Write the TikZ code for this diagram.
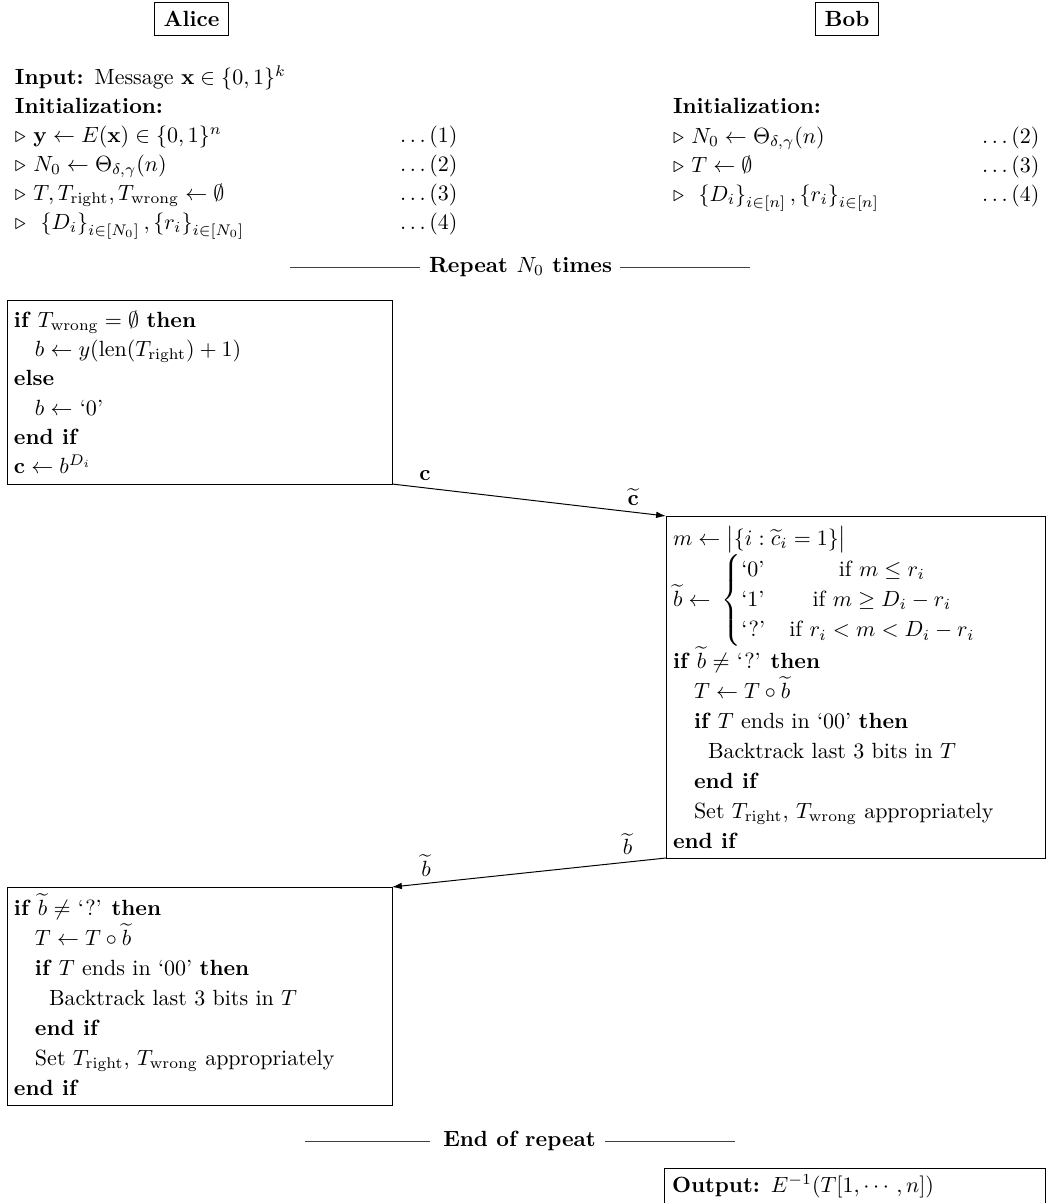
\documentclass[tikz,border=0pt]{standalone}
\usepackage{amsmath,amssymb}
\usetikzlibrary{arrows.meta,fit}
\begin{document}
\begin{tikzpicture}[x=0.4545pt,y=-0.4545pt,
  ln/.style={anchor=base west,inner sep=0pt,outer sep=0pt},
  frame/.style={draw,inner sep=0pt,outer sep=0pt,line width=0.45pt},
  party/.style={draw,line width=0.45pt,inner xsep=4pt,minimum height=15pt,font=\bfseries},
  msg/.style={-{Latex[length=4.5pt,width=3pt]},line width=0.45pt},
  lbl/.style={above,inner sep=3pt},
  rulel/.style={line width=0.4pt,black!75}]
\useasboundingbox (0,0) rectangle (1046,1203);

% headers
\node[party] (alice) at (191.5,18.5) {Alice};
\node[party] (bob) at (847,18.5) {Bob};

% Alice initialization
\node[ln] (ain) at (15,84) {\textbf{Input:}\hspace{5pt}Message $\mathbf{x}\in\{0,1\}^k$};
\node[ln] (aini) at (15,113) {\textbf{Initialization:}};
\node[ln] (ai1) at (15,142) {$\triangleright$ $\mathbf{y}\gets E(\mathbf{x})\in\{0,1\}^n$};
\node[ln] (ai2) at (15,171) {$\triangleright$ $N_0\gets\Theta_{\delta,\gamma}(n)$};
\node[ln] (ai3) at (15,200) {$\triangleright$ $T,T_{\mathrm{right}},T_{\mathrm{wrong}}\gets\emptyset$};
\node[ln] (ai4) at (15,229) {$\triangleright$\ \ $\left\{D_i\right\}_{i\in[N_0]},\left\{r_i\right\}_{i\in[N_0]}$};
\node[ln] (ad1) at (400,142) {$\ldots(1)$};
\node[ln] (ad2) at (400,171) {$\ldots(2)$};
\node[ln] (ad3) at (400,200) {$\ldots(3)$};
\node[ln] (ad4) at (400,229) {$\ldots(4)$};

% Bob initialization
\node[ln] (bini) at (673,113) {\textbf{Initialization:}};
\node[ln] (bi1) at (673,143) {$\triangleright$ $N_0\gets\Theta_{\delta,\gamma}(n)$};
\node[ln] (bi2) at (673,172) {$\triangleright$ $T\gets\emptyset$};
\node[ln] (bi3) at (673,201) {$\triangleright$\ \ $\left\{D_i\right\}_{i\in[n]},\left\{r_i\right\}_{i\in[n]}$};
\node[ln] (bd2) at (982,143) {$\ldots(2)$};
\node[ln] (bd3) at (982,172) {$\ldots(3)$};
\node[ln] (bd4) at (982,201) {$\ldots(4)$};

% Repeat
\node[anchor=base,inner sep=0pt,font=\bfseries] (rep) at (520.5,272) {Repeat $N_0$ times};
\draw[rulel] (290,267) -- (420,267);
\draw[rulel] (620,267) -- (750,267);

% Alice box 1
\node[frame,fit={(7,300) (392,484)}] (abox1) {};
\node[ln] (p1) at (14,327) {\textbf{if} $T_{\mathrm{wrong}}=\emptyset$ \textbf{then}};
\node[ln] (p2) at (35,356) {$b\gets y(\mathrm{len}(T_{\mathrm{right}})+1)$};
\node[ln] (p3) at (14,385.5) {\textbf{else}};
\node[ln] (p4) at (35,415) {$b\gets$ `0'};
\node[ln] (p5) at (14,444) {\textbf{end if}};
\node[ln] (p6) at (14,473) {$\mathbf{c}\gets b^{D_i}$};

% Bob box
\node[frame,fit={(666,516) (1045.5,858)}] (bbox) {};
\node[ln] (q1) at (673,545) {$m\gets\bigl|\{i:\widetilde{c}_i=1\}\bigr|$};
\node[ln] (q2) at (673,606) {$\widetilde{b}\gets\hspace{2.3pt}\left\{\renewcommand{\arraystretch}{1.15}\begin{array}{@{}l@{\hspace{11pt}}c@{}}\text{`0'} & \text{if } m\le r_i\\ \text{`1'} & \text{if } m\ge D_i-r_i\\ \text{`?'} & \text{if } r_i<m<D_i-r_i\end{array}\right.$};
\node[ln] (q3) at (673,668) {\textbf{if} $\widetilde{b}\neq$ `?' \textbf{then}};
\node[ln] (q4) at (694,698) {$T\gets T\circ\widetilde{b}$};
\node[ln] (q5) at (694,728) {\textbf{if} $T$ ends in `00' \textbf{then}};
\node[ln] (q6) at (708,758) {Backtrack last 3 bits in $T$};
\node[ln] (q7) at (694,788) {\textbf{end if}};
\node[ln] (q8) at (694,818) {Set $T_{\mathrm{right}}$, $T_{\mathrm{wrong}}$ appropriately};
\node[ln] (q9) at (673,848) {\textbf{end if}};

% Alice box 2
\node[frame,fit={(7,887) (392,1105)}] (abox2) {};
\node[ln] (r1) at (14,915) {\textbf{if} $\widetilde{b}\neq$ `?' \textbf{then}};
\node[ln] (r2) at (35,945) {$T\gets T\circ\widetilde{b}$};
\node[ln] (r3) at (35,975) {\textbf{if} $T$ ends in `00' \textbf{then}};
\node[ln] (r4) at (49,1005) {Backtrack last 3 bits in $T$};
\node[ln] (r5) at (35,1035) {\textbf{end if}};
\node[ln] (r6) at (35,1065) {Set $T_{\mathrm{right}}$, $T_{\mathrm{wrong}}$ appropriately};
\node[ln] (r7) at (14,1095) {\textbf{end if}};

% End of repeat
\node[anchor=base,inner sep=0pt,font=\bfseries] (endr) at (519.5,1146) {End of repeat};
\draw[rulel] (305,1141) -- (430,1141);
\draw[rulel] (605,1141) -- (735,1141);

% Output
\node[frame,fit={(664,1168) (1045.5,1216)}] (obox) {};
\node[ln] (out) at (672,1192) {\textbf{Output:}\hspace{5pt}$E^{-1}(T[1,\cdots,n])$};

% messages
\draw[msg] (abox1.south east) -- node[lbl,pos=0.12] (lc) {$\mathbf{c}$} node[lbl,pos=0.88] (lct) {$\widetilde{\mathbf{c}}$} (bbox.north west);
\draw[msg] (bbox.south west) -- node[lbl,pos=0.14] (lb1) {$\widetilde{b}$} node[lbl,pos=0.876] (lb2) {$\widetilde{b}$} (abox2.north east);
\end{tikzpicture}
\end{document}
